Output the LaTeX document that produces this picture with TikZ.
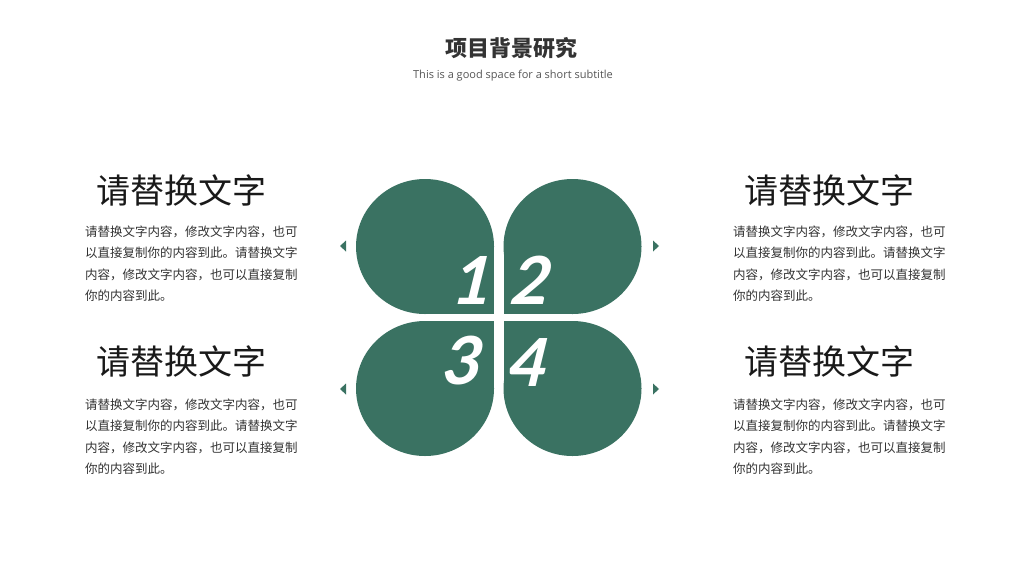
\documentclass[tikz,border=0pt]{standalone}
\usepackage{fontspec}
\setmainfont{Carlito}
\newfontfamily\cjk{Noto Sans CJK SC}
\newfontfamily\subfont{Open Sans}
\usepackage{tikz}
\definecolor{leafgreen}{HTML}{3A7262}
\definecolor{bodygray}{HTML}{333333}
\definecolor{subgray}{HTML}{555555}

\begin{document}
\begin{tikzpicture}[x=1pt,y=-1pt,
  leaf/.style={fill=leafgreen},
  num/.style={text=white,inner sep=0pt,xslant=0.12,font=\fontsize{74}{74}\selectfont\bfseries\itshape},
  heading/.style={inner sep=0pt,text=black!90,font=\cjk\fontsize{34}{34}\selectfont},
  bodytext/.style={anchor=base west,inner sep=0pt,text width=240pt,align=left,text=bodygray,font=\cjk\fontsize{12.5}{21.3}\selectfont}]
\fill[white] (0,0) rectangle (1024,576);
\useasboundingbox (0,0) rectangle (1024,576);

\node[inner sep=0pt,text=bodygray,font=\cjk\bfseries\fontsize{22}{22}\selectfont] (title) at (511.5,48.5) {项目背景研究};
\node[inner sep=0pt,text=subgray,font=\subfont\fontsize{11}{11}\selectfont] (subtitle) at (513,75.5) {This is a good space for a short subtitle};

% four leaves
\foreach \cx/\cy/\sx/\sy in {425/246.5/1/1, 572.5/246.5/-1/1, 425/388.5/1/-1, 572.5/388.5/-1/-1}{
  \fill[leaf] (\cx,\cy) ellipse [x radius=69, y radius=67.5];
  \fill[leaf] (\cx,\cy) rectangle ++(69*\sx,67.5*\sy);
}
\foreach \ty in {246,389}{
  \fill[leaf] (340,\ty) -- (346,\ty-5.5) -- (346,\ty+5.5) -- cycle;
  \fill[leaf] (659,\ty) -- (653,\ty-5.5) -- (653,\ty+5.5) -- cycle;
}

\node[num] (n1) at (472,280) {1};
\node[num] (n2) at (531,280) {2};
\node[num] (n3) at (462,360) {3};
\node[num] (n4) at (528,362) {4};

% text blocks
\foreach \hx/\bx/\hy/\by [count=\i] in {181/85/190/236.5, 829/733/190/236.5, 181/85/361/409.5, 829/733/361/409.5}{
  \node[heading] (head\i) at (\hx,\hy) {请替换文字};
  \node[bodytext] (body\i) at (\bx,\by) {请替换文字内容，修改文字内容，也可\\以直接复制你的内容到此。请替换文字\\内容，修改文字内容，也可以直接复制\\你的内容到此。};
}
\end{tikzpicture}
\end{document}
